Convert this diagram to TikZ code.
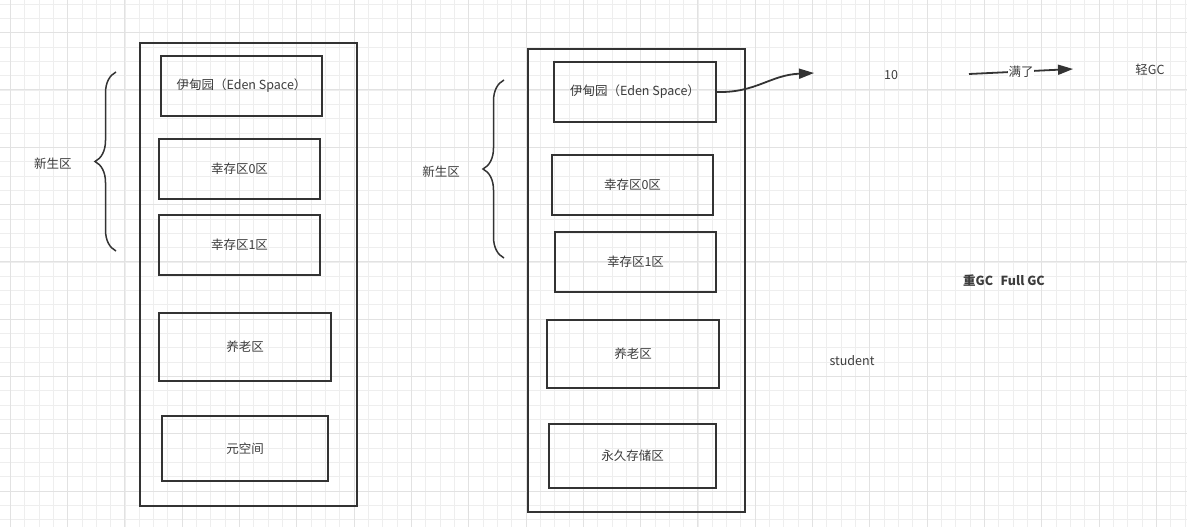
\documentclass[tikz,border=0pt]{standalone}
\usepackage{fontspec}
\setmainfont{Noto Sans CJK SC}
\usetikzlibrary{positioning,arrows.meta,decorations.pathreplacing}

\definecolor{inkgray}{HTML}{333333}
\definecolor{txtgray}{HTML}{3C3C3C}
\definecolor{gridminor}{HTML}{EEEEEE}
\definecolor{gridmajor}{HTML}{E2E2E2}

\begin{document}
\begin{tikzpicture}[
  x=1pt, y=-1pt,
  heap/.style={draw=inkgray, line width=1.8pt, inner sep=0pt},
  area/.style={draw=inkgray, line width=1.8pt, inner sep=0pt, align=center, text=txtgray, font=\fontsize{12.5}{15}\selectfont},
  note/.style={text=txtgray, inner sep=1pt, font=\fontsize{12.5}{15}\selectfont},
  genbrace/.style={draw=inkgray, line width=1.5pt, decorate, decoration={brace, amplitude=21pt}},
  flow/.style={draw=inkgray, line width=1.8pt, -{Triangle[length=15pt, width=10pt]}}
]
\useasboundingbox (0,0) rectangle (1187,527);
\fill[white] (0,0) rectangle (1187,527);

% grid paper
\begin{scope}
  \clip (0,0) rectangle (1187,527);
  \begin{scope}[shift={(10.3,32.7)}]
    \draw[gridminor, line width=0.8pt, step=14.325pt] (-30,-50) grid (1200,520);
    \draw[gridmajor, line width=1pt, step=57.3pt] (-60,-60) grid (1200,520);
  \end{scope}
\end{scope}

% left: heap layout (metaspace)
\node[heap, minimum width=217pt, minimum height=463pt] (heapL) at (248.5,274.5) {};
\node[area, minimum width=161pt, minimum height=60pt] (edenL) at (241.5,86) {伊甸园（Eden Space）};
\node[area, minimum width=161pt, minimum height=60pt] (surv0L) at (239.5,169) {幸存区0区};
\node[area, minimum width=161pt, minimum height=60pt] (surv1L) at (239.5,245) {幸存区1区};
\node[area, minimum width=172pt, minimum height=68pt] (oldL) at (245,347) {养老区};
\node[area, minimum width=166pt, minimum height=65pt] (metaL) at (245,448.5) {元空间};

\coordinate (braceLtop) at (116,72);
\coordinate (braceLbot) at (116,251);
\draw[genbrace] (braceLbot) -- (braceLtop);
\node[note] (youngL) at (53,164) {新生区};

% right: heap layout (permanent generation)
\node[heap, minimum width=217pt, minimum height=463pt] (heapR) at (636.5,280.5) {};
\node[area, minimum width=162pt, minimum height=60pt] (edenR) at (635,92) {伊甸园（Eden Space）};
\node[area, minimum width=161pt, minimum height=60pt] (surv0R) at (632.5,185) {幸存区0区};
\node[area, minimum width=161pt, minimum height=60pt] (surv1R) at (635.5,262) {幸存区1区};
\node[area, minimum width=172pt, minimum height=68pt] (oldR) at (633,354) {养老区};
\node[area, minimum width=167pt, minimum height=64pt] (permR) at (632.5,456) {永久存储区};

\coordinate (braceRtop) at (504,80);
\coordinate (braceRbot) at (504,258);
\draw[genbrace] (braceRbot) -- (braceRtop);
\node[note] (youngR) at (441,172) {新生区};

% notes on the right
\coordinate (edenTip) at (814,73);
\draw[flow] (edenR.east) .. controls (756,93) and (770,75) .. (edenTip);
\node[note] (count) at (891,75) {10};

\coordinate (fullStart) at (969,74);
\coordinate (fullTip) at (1073,69);
\draw[flow] (fullStart) -- (fullTip) node[pos=0.5, fill=white, note, inner sep=0.5pt] (full) {满了};
\node[note] (minorGC) at (1150,70) {轻GC};

\node[note, font=\fontsize{12.5}{15}\selectfont\bfseries] (majorGC) at (1004,281) {重GC\hspace{0.6em}Full GC};
\node[note] (student) at (852,361) {student};
\end{tikzpicture}
\end{document}
